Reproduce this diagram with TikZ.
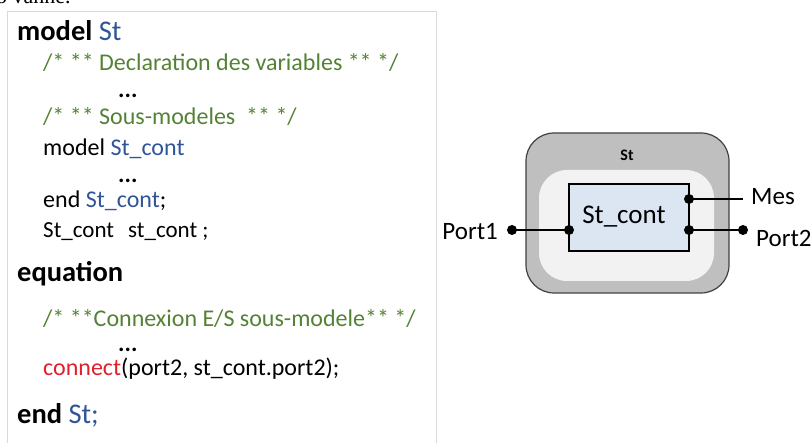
\documentclass[tikz,border=0pt]{standalone}
\usepackage{fontspec}
\setmainfont{Carlito}
\newfontfamily\serifnote{Liberation Serif}
\definecolor{cgreen}{RGB}{84,130,53}
\definecolor{cblue}{RGB}{47,85,151}
\definecolor{cred}{RGB}{224,32,42}
\definecolor{boxline}{RGB}{217,217,217}
\definecolor{outerfill}{RGB}{191,191,191}
\definecolor{outerline}{RGB}{64,64,64}
\definecolor{innerfill}{RGB}{242,242,242}
\definecolor{contfill}{RGB}{220,230,242}
\tikzset{
  x=1pt, y=-1pt,
  code/.style={anchor=base west, inner sep=0pt, font=\fontsize{24}{28}\selectfont},
  kw/.style={anchor=base west, inner sep=0pt, font=\fontsize{28.5}{32}\selectfont\bfseries},
  dots/.style={anchor=base west, inner sep=0pt, text height=5pt, text depth=0pt, font=\fontsize{24}{28}\selectfont\bfseries},
  lbl/.style={inner sep=0pt, font=\fontsize{25}{29}\selectfont},
  portdot/.style={circle, fill=black, minimum size=10pt, inner sep=0pt},
  wire/.style={line width=1.3pt},
}
\begin{document}
\begin{tikzpicture}
\useasboundingbox (0,0) rectangle (811,443);
% clipped text above
\node[anchor=base west, inner sep=0pt, font=\serifnote\fontsize{22}{26}\selectfont] (top) at (-4,4) {o vanne.};
% code box
\draw[boxline, line width=1.5pt] (7.5,450) -- (7.5,11.5) -- (436.5,11.5) -- (436.5,450);
\node[kw] (l1) at (17,41) {model \mdseries\color{cblue}St};
\node[code, text=cgreen] (l2) at (43,71) {/* ** Declaration des variables ** */};
\node[dots] (l3) at (118,98) {...};
\node[code, text=cgreen] (l4) at (43,125) {/* ** Sous-modeles\ \ ** */};
\node[code] (l5) at (43,156) {model \textcolor{cblue}{St\_cont}};
\node[dots] (l6) at (118,183) {...};
\node[code] (l7) at (43,208) {end \textcolor{cblue}{St\_cont};};
\node[code, font=\fontsize{23}{26}\selectfont] (l8) at (43,238) {St\_cont\hspace{14pt}st\_cont ;};
\node[kw] (l9) at (17,282) {equation};
\node[code, text=cgreen] (l10) at (43,327) {/* **Connexion E/S sous-modele** */};
\node[dots] (l11) at (118,352) {...};
\node[code] (l12) at (43,376) {\textcolor{cred}{connect}(port2, st\_cont.port2);};
\node[kw] (l13) at (17,423) {end \mdseries\color{cblue}St;};
% right diagram
\draw[outerline, fill=outerfill, line width=1.2pt, rounded corners=28pt] (526,133) rectangle (729,293);
\fill[innerfill, rounded corners=28pt] (539,170) rectangle (714,281);
\node[inner sep=0pt, font=\fontsize{16}{19}\selectfont\bfseries] (stlbl) at (627,155) {St};
\draw[fill=contfill, line width=1.3pt] (569,184) rectangle (689,251);
\node[font=\fontsize{27}{31}\selectfont, inner sep=0pt] (cont) at (624,217) {St\_cont};
\node[portdot] (p1in) at (569,230) {};
\node[portdot] (p2in) at (689,230) {};
\node[portdot] (mesin) at (689,199) {};
\node[portdot] (p1out) at (512,230) {};
\node[portdot] (p2out) at (743,230) {};
\coordinate (mesend) at (743,199);
\draw[wire] (p1out.center) -- (p1in.center);
\draw[wire] (p2in.center) -- (p2out.center);
\draw[wire] (mesin.center) -- (mesend);
\node[lbl, anchor=east] (port1) at (498,232) {Port1};
\node[lbl, anchor=west] (mes) at (751,197) {Mes};
\node[lbl, anchor=west] (port2) at (756,238) {Port2};
\end{tikzpicture}
\end{document}
